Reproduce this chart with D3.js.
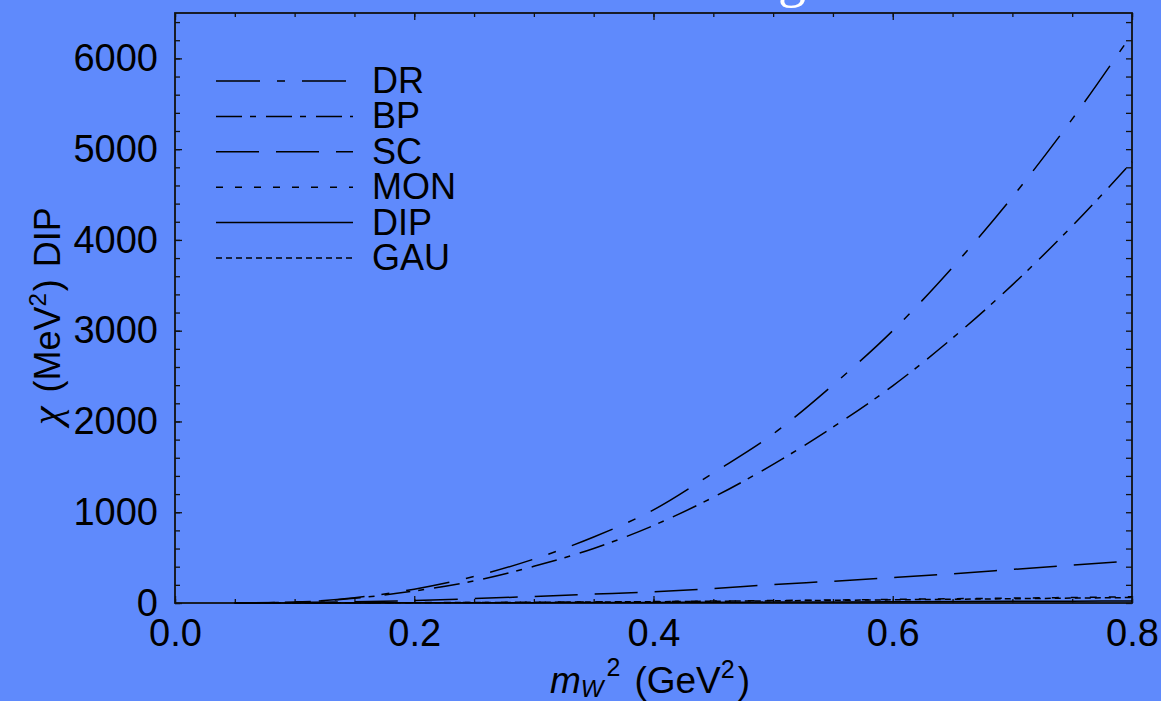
<!DOCTYPE html>
<html>
<head>
<meta charset="utf-8">
<script src="https://cdn.jsdelivr.net/npm/d3@7"></script>
<style>
  body { margin: 0; background: #5f8afc; }
  svg { display: block; }
  text { font-family: "Liberation Sans", Arial, sans-serif; fill: #000; }
</style>
</head>
<body>
<svg id="chart" width="1161" height="701"></svg>
<script>
// m_W^2 grid (GeV^2)
const massSq = [0.05, 0.10, 0.15, 0.20, 0.25, 0.30, 0.35, 0.40,
                0.45, 0.50, 0.55, 0.60, 0.65, 0.70, 0.75, 0.80];

// chi (MeV^2) for each form-factor model
const drValues  = [0, 10, 58, 152, 292, 484, 727, 1026, 1433, 1862, 2402, 3000, 3698, 4473, 5331, 6270];
const bpValues  = [0, 10, 52, 132, 243, 404, 601, 854, 1165, 1527, 1937, 2393, 2919, 3505, 4153, 4860];
const scValues  = [0, 5, 13, 27, 48, 72, 98, 124, 160, 203, 240, 280, 322, 370, 418, 465];
const monValues = [0, 1, 2, 4, 6, 9, 12, 16, 21, 27, 33, 40, 47, 54, 61, 68];
const dipValues = [0, 0, 1, 2, 3, 4, 5, 6, 8, 10, 12, 14, 16, 18, 20, 22];
const gauValues = [0, 1, 2, 3, 5, 8, 11, 14, 19, 24, 29, 35, 41, 47, 54, 60];

const seriesNames = ["DR", "BP", "SC", "MON", "DIP", "GAU"];
const seriesValues = [drValues, bpValues, scValues, monValues, dipValues, gauValues];
const dashPatterns = ["44,17,8,17", "26,8,6,10", "43,17", "7,12", null, "6,4"];

const xTickLabels = [0.0, 0.2, 0.4, 0.6, 0.8];
const yTickLabels = [0, 1000, 2000, 3000, 4000, 5000, 6000];

const svg = d3.select("#chart");
const frameL = 175, frameR = 1132, frameT = 13, frameB = 603;

const x = d3.scaleLinear().domain([0, 0.8]).range([frameL, frameR]);
const y = d3.scaleLinear().domain([0, 6500]).range([frameB, frameT]);

// title, mostly above the visible area
svg.append("text")
  .attr("x", 806).attr("y", -4)
  .attr("text-anchor", "end")
  .style("font-family", "'Liberation Serif', 'Times New Roman', serif")
  .style("font-size", "56px")
  .style("fill", "#fff")
  .text("Scaling");

const xMinor = d3.range(0, 0.8001, 0.05);
const yMinor = d3.range(0, 6500, 200);

function styleAxis(g) {
  g.select(".domain").remove();
  g.selectAll("line").attr("stroke", "#111").attr("stroke-width", 1.3);
  g.selectAll("text").style("font-size", "38px").attr("fill", "#000");
}

// bottom axis: minor then major ticks with labels
svg.append("g").attr("transform", `translate(0,${frameB})`)
  .call(d3.axisBottom(x).tickValues(xMinor).tickSizeInner(-4).tickSizeOuter(0).tickFormat(""))
  .call(styleAxis);
svg.append("g").attr("transform", `translate(0,${frameB})`)
  .call(d3.axisBottom(x).tickValues(xTickLabels).tickSizeInner(-7).tickSizeOuter(0)
        .tickPadding(16).tickFormat(d3.format(".1f")))
  .call(styleAxis);

// top axis
svg.append("g").attr("transform", `translate(0,${frameT})`)
  .call(d3.axisTop(x).tickValues(xMinor).tickSizeInner(-4).tickSizeOuter(0).tickFormat(""))
  .call(styleAxis);
svg.append("g").attr("transform", `translate(0,${frameT})`)
  .call(d3.axisTop(x).tickValues(xTickLabels).tickSizeInner(-7).tickSizeOuter(0).tickFormat(""))
  .call(styleAxis);

// left axis
svg.append("g").attr("transform", `translate(${frameL},0)`)
  .call(d3.axisLeft(y).tickValues(yMinor).tickSizeInner(-5).tickSizeOuter(0).tickFormat(""))
  .call(styleAxis);
svg.append("g").attr("transform", `translate(${frameL},0)`)
  .call(d3.axisLeft(y).tickValues(yTickLabels).tickSizeInner(-7).tickSizeOuter(0)
        .tickPadding(17).tickFormat(d3.format("d")))
  .call(styleAxis);

// right axis
svg.append("g").attr("transform", `translate(${frameR},0)`)
  .call(d3.axisRight(y).tickValues(yMinor).tickSizeInner(-6).tickSizeOuter(0).tickFormat(""))
  .call(styleAxis);

// frame
svg.append("rect")
  .attr("x", frameL).attr("y", frameT)
  .attr("width", frameR - frameL).attr("height", frameB - frameT)
  .attr("fill", "none").attr("stroke", "#111").attr("stroke-width", 1.8);

// curves
const line = d3.line()
  .x((d, i) => x(massSq[i]))
  .y(d => y(d))
  .curve(d3.curveMonotoneX);

const plot = svg.append("g");
seriesValues.forEach((vals, k) => {
  plot.append("path")
    .datum(vals)
    .attr("d", line)
    .attr("fill", "none")
    .attr("stroke", "#000")
    .attr("stroke-width", 1.5)
    .attr("stroke-dasharray", dashPatterns[k]);
});

// legend
const legend = svg.append("g");
seriesNames.forEach((name, k) => {
  const ly = 81 + k * 35.4;
  legend.append("line")
    .attr("x1", 216).attr("x2", 353)
    .attr("y1", ly).attr("y2", ly)
    .attr("stroke", "#000").attr("stroke-width", 1.5)
    .attr("stroke-dasharray", dashPatterns[k]);
  legend.append("text")
    .attr("x", 372).attr("y", ly + 12)
    .style("font-size", "36px")
    .text(name);
});

// x-axis title
const xt = svg.append("text")
  .attr("x", 550).attr("y", 693)
  .style("font-size", "37px");
xt.append("tspan").style("font-style", "italic").text("m");
xt.append("tspan").style("font-style", "italic").style("font-size", "24px").attr("dy", 4).text("W");
xt.append("tspan").style("font-size", "25px").attr("dx", 3).attr("dy", -21).text("2");
xt.append("tspan").attr("dx", 14).attr("dy", 17).text("(GeV");
xt.append("tspan").style("font-size", "25px").attr("dy", -15).text("2");
xt.append("tspan").attr("dx", 3).attr("dy", 15).text(")");

// y-axis title
const yt = svg.append("text")
  .attr("transform", "translate(60,425) rotate(-90)")
  .style("font-size", "36px");
yt.append("tspan")
  .style("font-family", "'Liberation Serif', 'Times New Roman', serif")
  .style("font-style", "italic").style("font-size", "42px").text("χ");
yt.append("tspan").attr("dx", 14).text("(MeV");
yt.append("tspan").style("font-size", "24px").attr("dy", -14).text("2");
yt.append("tspan").attr("dy", 14).attr("dx", 2).text(")");
yt.append("tspan").attr("dx", 12).text("DIP");
</script>
</body>
</html>
